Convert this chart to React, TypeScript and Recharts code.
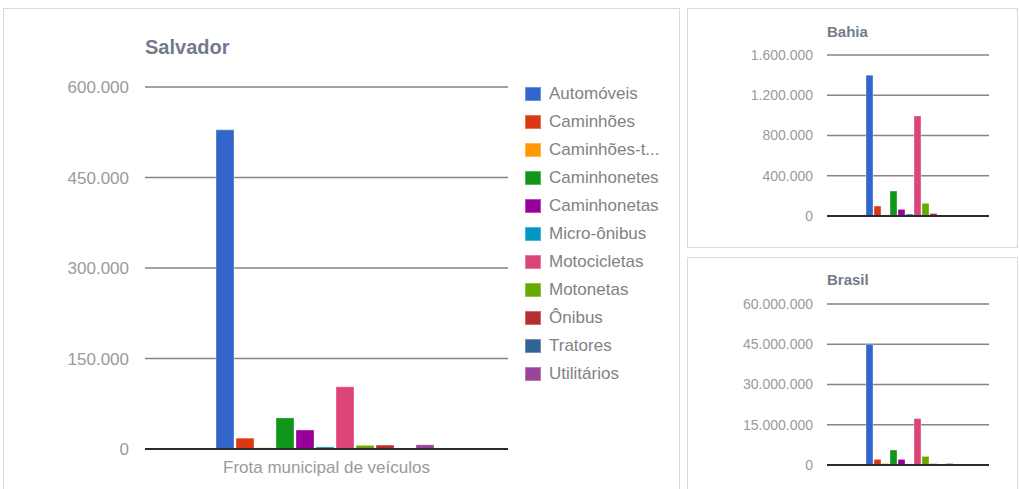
import { Bar, BarChart, CartesianGrid, ReferenceLine, XAxis, YAxis } from "recharts";

const categories = ["Frota municipal de veículos"];

const seriesNames = [
  "Automóveis",
  "Caminhões",
  "Caminhões-trator",
  "Caminhonetes",
  "Caminhonetas",
  "Micro-ônibus",
  "Motocicletas",
  "Motonetas",
  "Ônibus",
  "Tratores",
  "Utilitários",
];

// legend truncates the long one like the original does
const legendLabels = [
  "Automóveis",
  "Caminhões",
  "Caminhões-t...",
  "Caminhonetes",
  "Caminhonetas",
  "Micro-ônibus",
  "Motocicletas",
  "Motonetas",
  "Ônibus",
  "Tratores",
  "Utilitários",
];

const colors = [
  "#3366cc",
  "#dc3912",
  "#ff9900",
  "#109618",
  "#990099",
  "#0099c6",
  "#dd4477",
  "#66aa00",
  "#b82e2e",
  "#316395",
  "#994499",
];

const salvadorValues = [529000, 18000, 2000, 51500, 31500, 3500, 103000, 6000, 6500, 300, 7000];
const bahiaValues = [1400000, 99000, 8000, 248000, 66000, 20000, 994000, 126000, 25000, 1000, 10000];
const brasilValues = [45000000, 2100000, 600000, 5600000, 2100000, 400000, 17300000, 3200000, 500000, 30000, 600000];

const salvadorTicks = [0, 150000, 300000, 450000, 600000];
const bahiaTicks = [0, 400000, 800000, 1200000, 1600000];
const brasilTicks = [0, 15000000, 30000000, 45000000, 60000000];

const FONT = "Arial, 'Liberation Sans', sans-serif";

const fmt = (v: number) => String(v).replace(/\B(?=(\d{3})+(?!\d))/g, ".");

function toRows(values: number[]) {
  return categories.map((name) => {
    const row: Record<string, string | number> = { name };
    values.forEach((v, i) => {
      row[`s${i}`] = v;
    });
    return row;
  });
}

function Panel({ left, top, width, height }: { left: number; top: number; width: number; height: number }) {
  return (
    <div
      style={{
        position: "absolute",
        left,
        top,
        width,
        height,
        border: "1px solid #d9d9d9",
        boxSizing: "border-box",
        background: "#fff",
      }}
    />
  );
}

function Title({ text, left, top, size }: { text: string; left: number; top: number; size: number }) {
  return (
    <div
      style={{
        position: "absolute",
        left,
        top,
        fontFamily: FONT,
        fontWeight: "bold",
        fontSize: size,
        lineHeight: 1,
        color: "#717b8a",
        whiteSpace: "nowrap",
      }}
    >
      {text}
    </div>
  );
}

function VehicleChart({
  values,
  ticks,
  width,
  height,
  margin,
  yWidth,
  tickMargin,
  fontSize,
  categoryGap,
  barGap,
  showX,
}: {
  values: number[];
  ticks: number[];
  width: number;
  height: number;
  margin: { top: number; right: number; bottom: number; left: number };
  yWidth: number;
  tickMargin: number;
  fontSize: number;
  categoryGap: number;
  barGap: number;
  showX: boolean;
}) {
  return (
    <BarChart
      width={width}
      height={height}
      data={toRows(values)}
      margin={margin}
      barCategoryGap={categoryGap}
      barGap={barGap}
    >
      <CartesianGrid vertical={false} stroke="#858585" strokeWidth={1.6} horizontalValues={ticks} />
      <XAxis
        dataKey="name"
        hide={!showX}
        axisLine={false}
        tickLine={false}
        height={28}
        tickMargin={6}
        tick={{ fill: "#9a9a9a", fontSize, fontFamily: FONT }}
      />
      <YAxis
        domain={[ticks[0], ticks[ticks.length - 1]]}
        ticks={ticks}
        width={yWidth}
        axisLine={false}
        tickLine={false}
        tickMargin={tickMargin}
        tickFormatter={fmt}
        tick={{ fill: "#9a9a9a", fontSize, fontFamily: FONT }}
      />
      {seriesNames.map((name, i) => (
        <Bar
          key={name}
          dataKey={`s${i}`}
          name={name}
          fill={colors[i]}
          stroke="#ffffff"
          strokeOpacity={0.35}
          strokeWidth={1}
          isAnimationActive={false}
        />
      ))}
      <ReferenceLine y={0} stroke="#2b2b2b" strokeWidth={2} />
    </BarChart>
  );
}

export default function App() {
  return (
    <div style={{ position: "absolute", left: 0, top: 0, width: 1019, height: 489, background: "#fff", overflow: "hidden" }}>
      <Panel left={3} top={8} width={677} height={500} />
      <Panel left={687} top={8} width={331} height={240} />
      <Panel left={687} top={257} width={331} height={250} />

      <div style={{ position: "absolute", left: 3, top: 8 }}>
        <VehicleChart
          values={salvadorValues}
          ticks={salvadorTicks}
          width={677}
          height={481}
          margin={{ top: 79, right: 172, bottom: 12, left: 0 }}
          yWidth={142}
          tickMargin={10}
          fontSize={17}
          categoryGap={71}
          barGap={2}
          showX
        />
      </div>
      <Title text="Salvador" left={145} top={37} size={20} />

      {/* legend for the Salvador chart */}
      <div style={{ position: "absolute", left: 525, top: 80, fontFamily: FONT, fontSize: 17, color: "#828282" }}>
        {legendLabels.map((label, i) => (
          <div key={label} style={{ display: "flex", alignItems: "center", height: 28, whiteSpace: "nowrap" }}>
            <span
              style={{
                display: "inline-block",
                width: 16,
                height: 14,
                background: colors[i],
                boxShadow: "inset 0 0 0 1px rgba(255,255,255,0.3)",
                marginRight: 8,
              }}
            />
            {label}
          </div>
        ))}
      </div>

      <div style={{ position: "absolute", left: 687, top: 8 }}>
        <VehicleChart
          values={bahiaValues}
          ticks={bahiaTicks}
          width={330}
          height={239}
          margin={{ top: 47, right: 28, bottom: 31, left: 0 }}
          yWidth={140}
          tickMargin={8}
          fontSize={14}
          categoryGap={39}
          barGap={1}
          showX={false}
        />
      </div>
      <Title text="Bahia" left={827} top={24} size={15} />

      <div style={{ position: "absolute", left: 687, top: 257 }}>
        <VehicleChart
          values={brasilValues}
          ticks={brasilTicks}
          width={330}
          height={232}
          margin={{ top: 47, right: 28, bottom: 24, left: 0 }}
          yWidth={140}
          tickMargin={8}
          fontSize={14}
          categoryGap={39}
          barGap={1}
          showX={false}
        />
      </div>
      <Title text="Brasil" left={827} top={272} size={15} />
    </div>
  );
}
